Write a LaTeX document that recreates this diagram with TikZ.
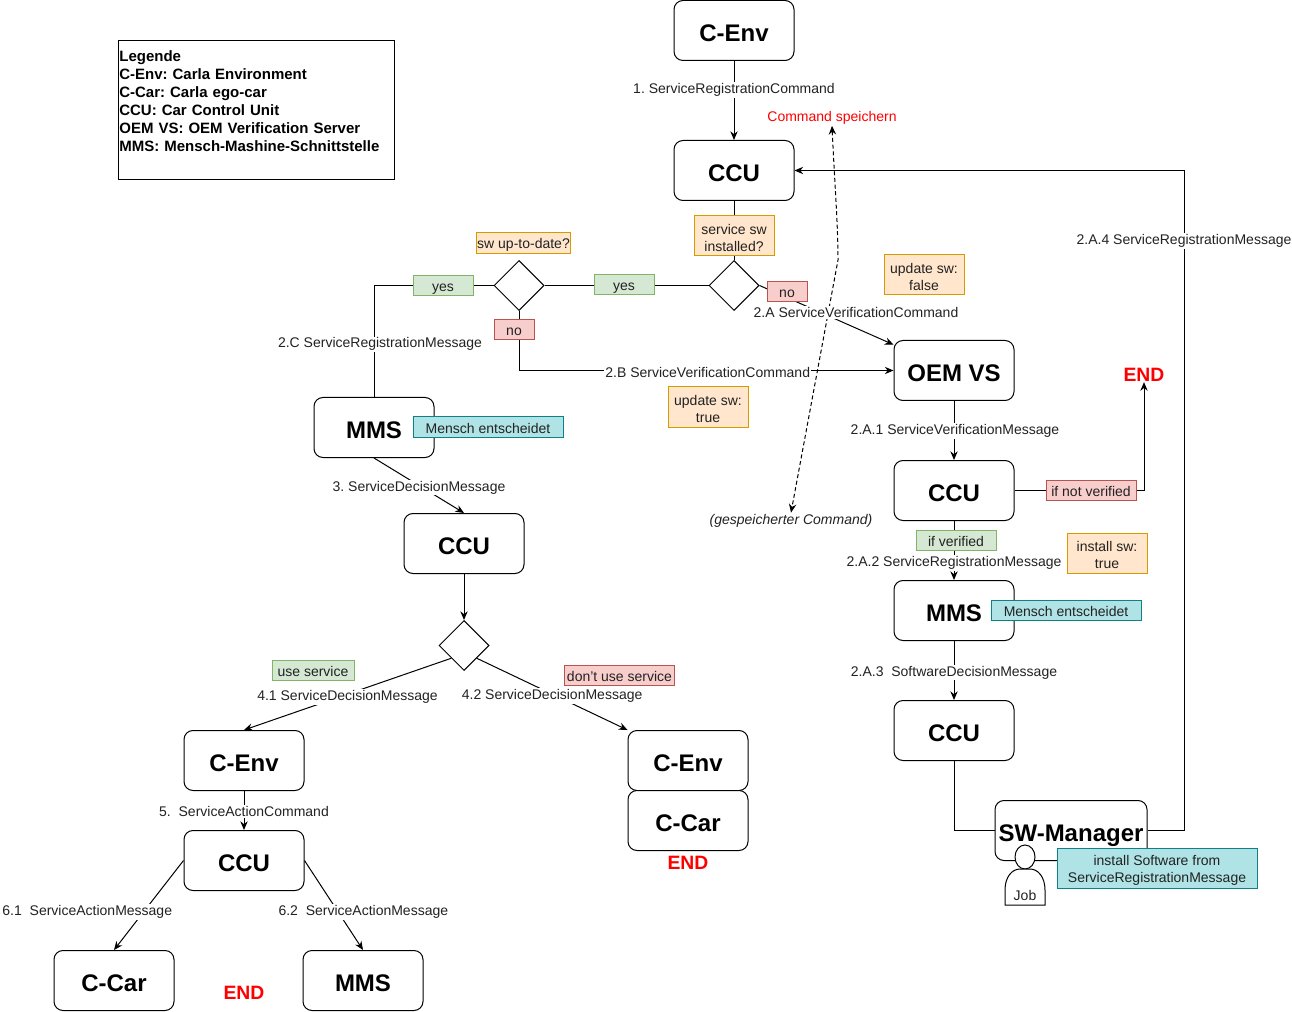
\documentclass[tikz,border=0pt]{standalone}
\usepackage{fontspec}
\setmainfont{Liberation Sans}
\usetikzlibrary{shapes.geometric, arrows.meta}
\definecolor{greenfill}{HTML}{D5E8D4}
\definecolor{greenline}{HTML}{82B366}
\definecolor{redfill}{HTML}{F8CECC}
\definecolor{redline}{HTML}{B85450}
\definecolor{orangefill}{HTML}{FFE6CC}
\definecolor{orangeline}{HTML}{D79B00}
\definecolor{tealfill}{HTML}{B0E3E6}
\definecolor{tealline}{HTML}{0E8088}
\definecolor{labeltext}{HTML}{222222}
\newcommand{\labelfont}{\fontsize{10.5}{12.75}\selectfont\frenchspacing}
\newcommand{\toppad}{\rule{0pt}{11pt}}
\tikzset{
  >={Stealth[length=6.5pt,width=5.5pt]},
  every path/.style={line width=0.75pt},
  component/.style={rectangle, rounded corners=6.75pt, draw=black, fill=white, minimum width=90pt, minimum height=45pt, inner sep=0pt, text height=17.5pt, text depth=1pt, font=\fontsize{18}{20}\selectfont\bfseries},
  decision/.style={diamond, draw=black, fill=white, minimum width=37.5pt, minimum height=37.5pt, inner sep=0pt, aspect=1},
  edgelabel/.style={fill=white, inner sep=1pt, yshift=-1.5pt, text=labeltext, font=\labelfont},
  tagbox/.style={rectangle, draw, inner sep=0pt, text=labeltext, align=center, font=\labelfont},
  oneline/.style={text height=10pt, text depth=1pt},
  greentag/.style={tagbox, oneline, fill=greenfill, draw=greenline},
  redtag/.style={tagbox, oneline, fill=redfill, draw=redline},
  orangetag/.style={tagbox, fill=orangefill, draw=orangeline},
  tealtag/.style={tagbox, fill=tealfill, draw=tealline},
  endmark/.style={text=red, inner sep=0pt, font=\fontsize{14.5}{16}\selectfont\bfseries},
}
\begin{document}
\begin{tikzpicture}[x=0.75pt, y=-0.75pt]
\useasboundingbox (0,0) rectangle (1292,1012);

% legend
\node[rectangle, draw=black, minimum width=207pt, minimum height=104.25pt, inner sep=1pt, align=left, text width=205pt, font=\fontsize{11.25}{13.5}\selectfont\frenchspacing\bfseries] (legende) at (256,110.5) {Legende\\C-Env: Carla Environment\\C-Car: Carla ego-car\\CCU: Car Control Unit\\OEM VS: OEM Verification Server\\MMS: Mensch-Mashine-Schnittstelle\\\rule[-1pt]{0pt}{5pt}};

% saved command, stays behind everything else
\node[text=red, inner sep=1pt, font=\labelfont] (cmdsave) at (832,117.5) {Command speichern};
\node[inner sep=1pt, text=labeltext, font=\labelfont\itshape] (cmdload) at (791,521) {(gespeicherter Command)};
\coordinate (cmdbend) at (838,260);
\draw[<->, densely dashed] (cmdsave.south) .. controls (835,190) and (838,225) .. (cmdbend) -- (cmdload.north);

\node[component] (cenvtop) at (734,30.5) {C-Env};
\node[component] (ccutop) at (734,170.5) {CCU};
\node[decision] (installed) at (734,285.5) {};
\node[decision] (uptodate) at (519,285.5) {};
\node[component] (oemvs) at (954,370.5) {OEM VS};
\node[component] (ccuverify) at (954,490.5) {CCU};
\node[component] (mmsright) at (954,610.5) {MMS};
\node[component] (ccusw) at (954,730.5) {CCU};
\node[component, minimum width=114pt] (swmanager) at (1071,830.5) {SW-Manager};
\node[component] (mmsleft) at (374,427.5) {MMS};
\node[component] (cculeft) at (464,543.5) {CCU};
\node[decision] (servicechoice) at (464,645.5) {};
\node[component] (cenvleft) at (244,760.5) {C-Env};
\node[component] (ccubottom) at (244,860.5) {CCU};
\node[component] (ccarbottom) at (114,980.5) {C-Car};
\node[component] (mmsbottom) at (363,980.5) {MMS};
\node[component] (cenvright) at (688,760.5) {C-Env};
\node[component] (ccarright) at (688,820.5) {C-Car};

\node[endmark] (endverify) at (1144,375) {END};
\node[endmark] (endright) at (688,863) {END};
\node[endmark] (endbottom) at (244,993) {END};
\coordinate (swcorner) at (1184,170.5);

\draw[->] (cenvtop) --node[edgelabel, pos=.34] {1. ServiceRegistrationCommand} (ccutop);
\draw (ccutop) -- (installed);
\draw (installed) -- (uptodate);
\draw (uptodate.west) -| node[edgelabel, pos=.755, xshift=4.5pt] {2.C ServiceRegistrationMessage} (mmsleft.north);
\draw[->] (uptodate.south) |- node[edgelabel, pos=.752] {2.B ServiceVerificationCommand} (oemvs.west);
\draw[->] (installed.east) --node[edgelabel, pos=.72, yshift=13.5pt] {2.A ServiceVerificationCommand} ([yshift=-3.5pt]oemvs.north west);
\draw[->] (oemvs) --node[edgelabel, pos=.48, xshift=.75pt] {2.A.1 ServiceVerificationMessage} (ccuverify);
\draw[->] (ccuverify) --node[edgelabel, pos=.68] {2.A.2 ServiceRegistrationMessage} (mmsright);
\draw[->] (ccuverify.east) -| (endverify.south);
\draw[->] (mmsright) --node[edgelabel, pos=.5] {2.A.3\ \ SoftwareDecisionMessage} (ccusw);
\draw (ccusw.south) |- (swmanager.west);
\draw[->] (swmanager.east) -| node[edgelabel, pos=.948] {2.A.4 ServiceRegistrationMessage} (swcorner) -- (ccutop.east);
\draw[->] (mmsleft.south) --node[edgelabel, pos=.5] {3. ServiceDecisionMessage} (cculeft.north);
\draw[->] (cculeft) -- (servicechoice);
\draw[->] (servicechoice.south west) --node[edgelabel, pos=.51, xshift=1.5pt] {4.1 ServiceDecisionMessage} (cenvleft.north);
\draw[->] (servicechoice.south east) --node[edgelabel, pos=.5] {4.2 ServiceDecisionMessage} (cenvright.north west);
\draw[->] (cenvleft) --node[edgelabel, pos=.48] {5.\ \ ServiceActionCommand} (ccubottom);
\draw[->] (ccubottom.west) --node[edgelabel, pos=.55, xshift=-43.5pt] {6.1\ \ ServiceActionMessage} (ccarbottom.north);
\draw[->] (ccubottom.east) --node[edgelabel, pos=.55, xshift=20pt] {6.2\ \ ServiceActionMessage} (mmsbottom.north);

% tags
\node[orangetag, minimum width=60pt, minimum height=30pt] (installedtag) at (734,236) {\toppad service sw\\installed?};
\node[orangetag, text height=9pt, text depth=1pt, minimum width=70.5pt, minimum height=15.75pt] (uptodatetag) at (523.5,243.5) {sw up-to-date?};
\node[orangetag, minimum width=60pt, minimum height=30pt] (updatefalse) at (924,275) {\toppad update sw:\\false};
\node[orangetag, minimum width=60pt, minimum height=30pt] (updatetrue) at (708,407) {\toppad update sw:\\true};
\node[orangetag, minimum width=60pt, minimum height=30pt] (installtrue) at (1107,553) {\toppad install sw:\\true};
\node[greentag, minimum width=45pt, minimum height=15pt] (yesright) at (624,285) {yes};
\node[greentag, minimum width=45pt, minimum height=15pt] (yesleft) at (443,286) {yes};
\node[greentag, minimum width=60pt, minimum height=15pt] (verifiedtag) at (956,540) {if verified};
\node[greentag, minimum width=61.5pt, minimum height=15pt] (usetag) at (313,670) {use service};
\node[redtag, minimum width=30pt, minimum height=15pt] (noright) at (787,291.5) {no};
\node[redtag, minimum width=30pt, minimum height=15pt] (noleft) at (514,330) {no};
\node[redtag, minimum width=67.5pt, minimum height=15pt] (notverifiedtag) at (1091,490.5) {if not verified};
\node[redtag, minimum width=82.5pt, minimum height=15pt] (dontusetag) at (619.5,675) {don't use service};
\node[tealtag, oneline, minimum width=112.5pt, minimum height=15pt] (decideleft) at (488,427) {Mensch entscheidet};
\node[tealtag, oneline, minimum width=112.5pt, minimum height=15pt] (decideright) at (1066,610) {Mensch entscheidet};

% job figure
\node[ellipse, draw=black, fill=white, minimum width=15pt, minimum height=18pt, inner sep=0pt] (jobhead) at (1025,857) {};
\draw[fill=white] (1005,905) -- (1005,890) .. controls (1005,877) and (1012,869) .. (1020,869) -- (1030,869) .. controls (1038,869) and (1045,877) .. (1045,890) -- (1045,905) -- cycle;
\node[inner sep=0pt, text=labeltext, font=\labelfont] (joblabel) at (1025,895) {Job};
\node[tealtag, minimum width=150pt, minimum height=30pt] (installtag) at (1157,868) {\toppad install Software from\\ServiceRegistrationMessage};
\end{tikzpicture}
\end{document}
